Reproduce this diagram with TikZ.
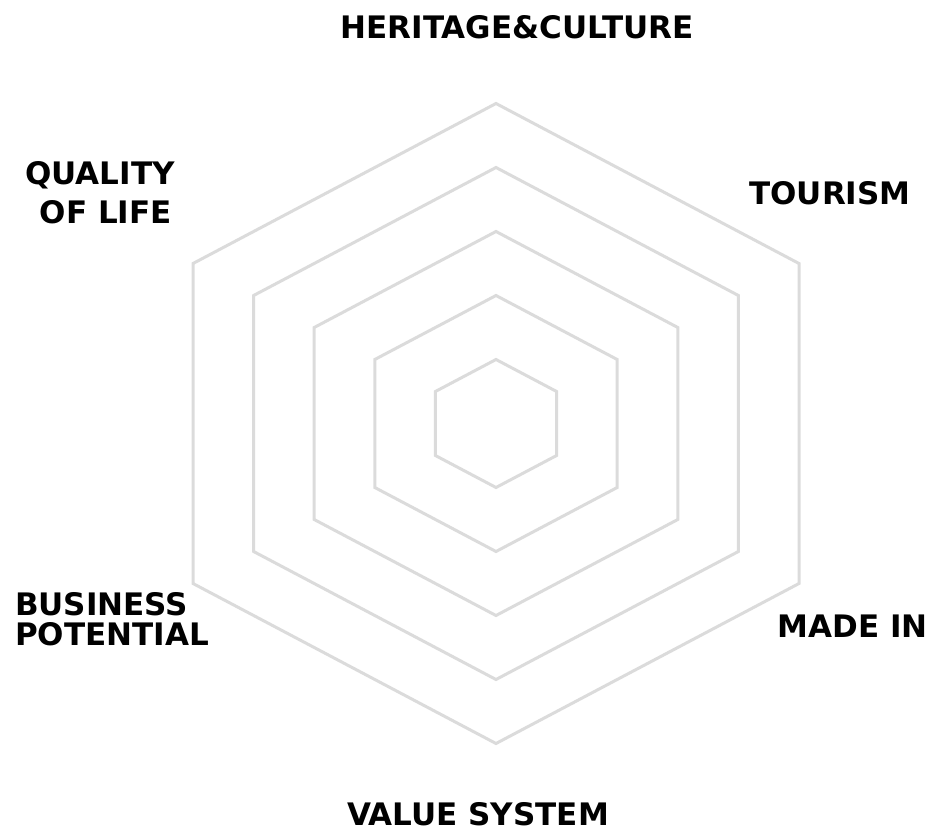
\documentclass[tikz,border=0pt]{standalone}
\usepackage{fontspec}
\setmainfont{DejaVu Sans}
\usetikzlibrary{calc}
\begin{document}
\begin{tikzpicture}[x=1pt,y=-1pt,
  ring/.style={draw=black!14, line width=3pt, line join=miter},
  lbl/.style={inner sep=0pt, font=\fontsize{31}{37}\selectfont\bfseries, text=black}]
\useasboundingbox (0,0) rectangle (930,832);
\coordinate (c) at (496,423.5);
\foreach \k in {1,...,5}{
  \pgfmathsetmacro{\r}{64*\k}
  \pgfmathsetmacro{\w}{60.6*\k}
  \draw[ring] ($(c)+(0,-\r)$) -- ++(\w,\r/2) -- ++(0,\r) -- ++(-\w,\r/2) -- ++(-\w,-\r/2) -- ++(0,-\r) -- cycle;
}
\node[lbl, anchor=base] (her) at (517,39) {HERITAGE\&CULTURE};
\node[lbl, anchor=base east] (qual1) at (175,185) {QUALITY};
\node[lbl, anchor=base east] (qual2) at (172,223) {OF LIFE};
\node[lbl, anchor=base] (tour) at (830,205) {TOURISM};
\node[lbl, anchor=base west] (bus1) at (15,615) {BUSINESS};
\node[lbl, anchor=base west] (bus2) at (15,645) {POTENTIAL};
\node[lbl, anchor=base] (made) at (852.5,637) {MADE IN};
\node[lbl, anchor=base] (val) at (478,825) {VALUE SYSTEM};
\end{tikzpicture}
\end{document}
